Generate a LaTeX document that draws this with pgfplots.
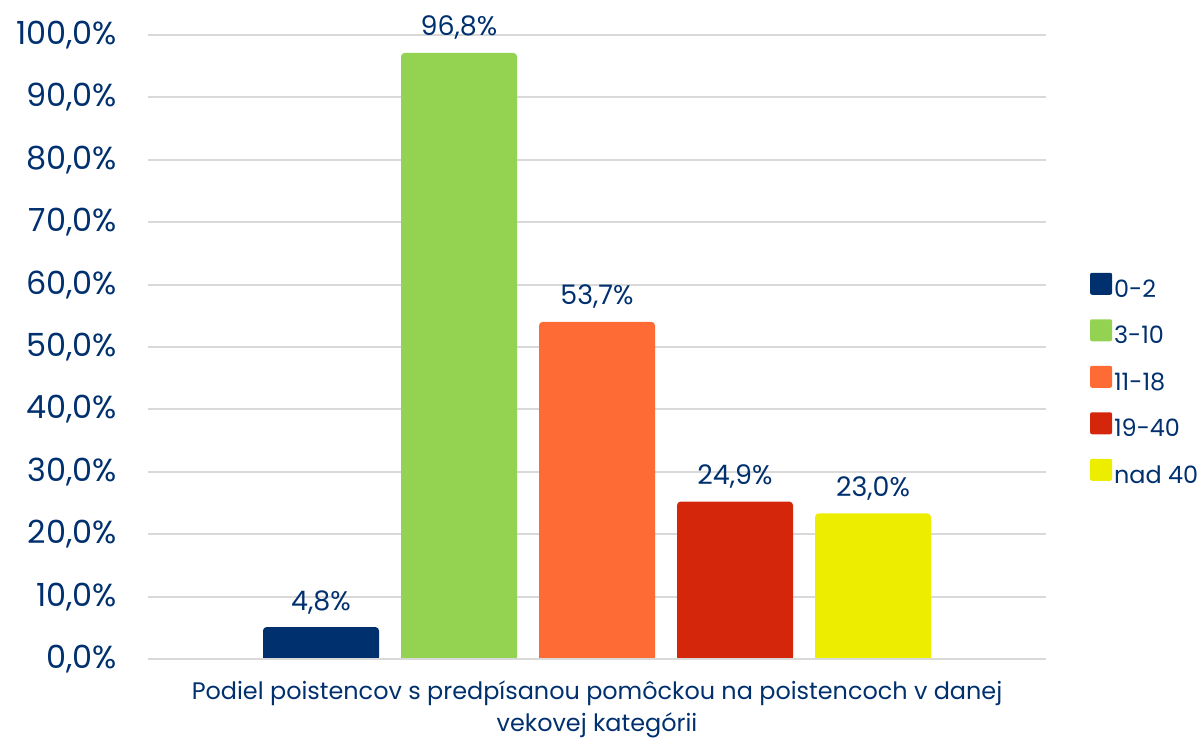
\documentclass[border=0pt]{standalone}
\usepackage{pgfplots}
\pgfplotsset{compat=1.18}
\usepackage{fontspec}
\setmainfont{Poppins}

\definecolor{navy}{HTML}{00306E}
\definecolor{cgreen}{HTML}{94D251}
\definecolor{corange}{HTML}{FF6B35}
\definecolor{cred}{HTML}{D4260B}
\definecolor{cyellow}{HTML}{EDED00}
\definecolor{gridgray}{HTML}{D9D9D9}

\begin{document}
\begin{tikzpicture}[x=1bp,y=1bp]
\path[use as bounding box] (0,0) rectangle (1202,741);
\begin{axis}[
  at={(148bp,82bp)}, anchor=south west,
  scale only axis, width=898bp, height=624bp,
  ybar=26bp, bar width=112bp,
  xmin=-1, xmax=1, ymin=0, ymax=100,
  xtick=\empty, ytick={0,10,...,100},
  axis line style={draw=none},
  ymajorgrids, grid style={draw=gridgray, line width=2bp},
  major tick length=0pt,
  yticklabel={\pgfmathprintnumber[fixed,fixed zerofill,precision=1,use comma,assume math mode=true]{\tick}\%},
  yticklabel style={font=\fontsize{32}{32}\selectfont, text=navy, inner sep=0pt, xshift=-31bp},
  nodes near coords={\pgfmathprintnumber[fixed,fixed zerofill,precision=1,use comma,assume math mode=true]{\pgfplotspointmeta}\%},
  nodes near coords style={font=\fontsize{27}{27}\selectfont, text=navy, anchor=base, inner sep=0pt, yshift=19bp},
  every axis plot/.append style={line width=4bp, rounded corners=2bp},
  xlabel={Podiel poistencov s predpísanou pomôckou na poistencoch v danej\\vekovej kategórii},
  xlabel style={font=\fontsize{24}{32}\selectfont, text=navy, align=center, at={(axis description cs:0.5,0)}, anchor=north, inner sep=0pt, yshift=-22bp},
  legend style={at={(1.0455,0.4455)}, anchor=west, draw=none, fill=none,
    font=\fontsize{24}{24}\selectfont, text=navy,
    nodes={inner sep=0pt, text height=19bp, text depth=6bp},
    row sep=16bp, column sep=2bp},
  legend cell align=left,
  legend image code/.code={\fill[#1, draw=none, rounded corners=2bp] (0bp,-4bp) rectangle (22bp,18bp);},
]
\addplot[fill=navy, draw=navy] coordinates {(0,4.8)};
\addplot[fill=cgreen, draw=cgreen] coordinates {(0,96.8)};
\addplot[fill=corange, draw=corange] coordinates {(0,53.7)};
\addplot[fill=cred, draw=cred] coordinates {(0,24.9)};
\addplot[fill=cyellow, draw=cyellow] coordinates {(0,23.0)};
\draw[gridgray, line width=2bp] (axis cs:-1,0) -- (axis cs:1,0);
\legend{0-2,3-10,11-18,19-40,nad 40}
\end{axis}
\end{tikzpicture}
\end{document}
